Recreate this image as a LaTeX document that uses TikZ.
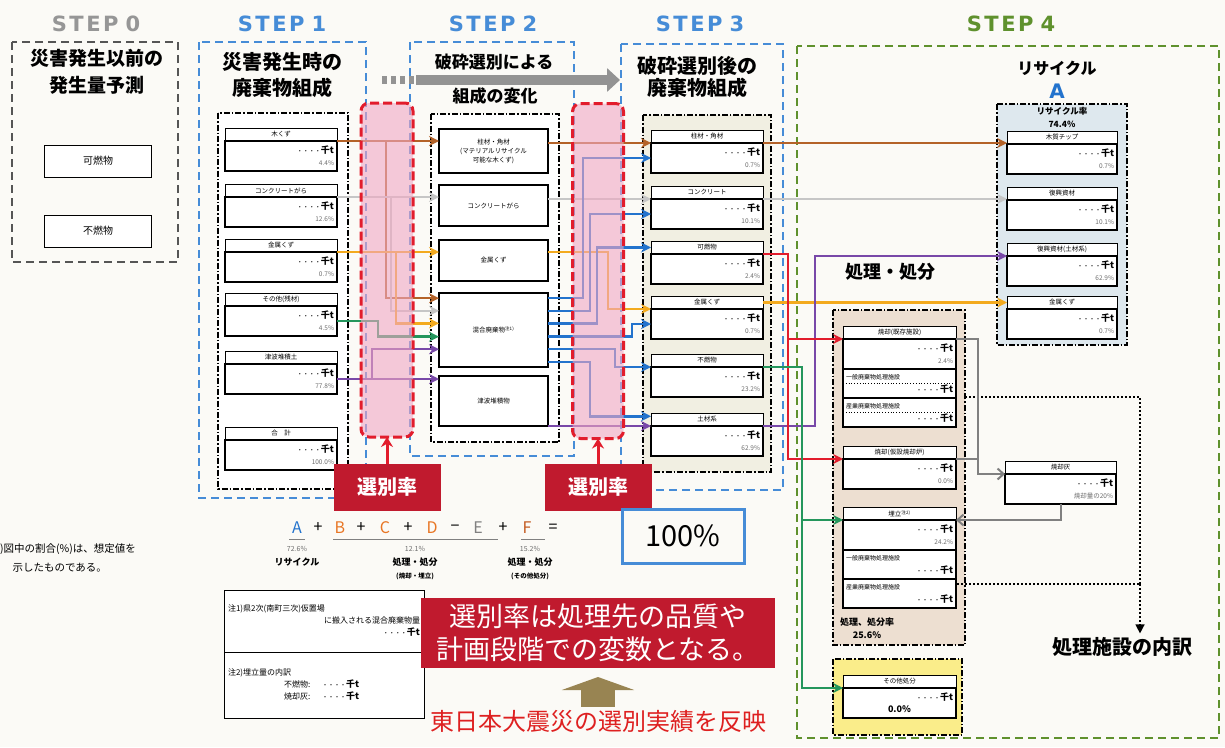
\documentclass[tikz,border=0pt]{standalone}
\usepackage{fontspec}
\setmainfont{Noto Sans CJK JP}
\newfontfamily\labfont{DejaVu Sans}
\usetikzlibrary{arrows.meta,calc}

\definecolor{cbg}{RGB}{251,250,246}
\definecolor{cbrown}{RGB}{180,98,40}
\definecolor{clgray}{RGB}{198,198,198}
\definecolor{corange}{RGB}{243,170,30}
\definecolor{cgreen}{RGB}{36,150,92}
\definecolor{cpurple}{RGB}{120,72,168}
\definecolor{cblue}{RGB}{35,115,205}
\definecolor{cred}{RGB}{226,28,44}
\definecolor{cdgray}{RGB}{128,128,128}
\definecolor{cstepblue}{RGB}{70,140,215}
\definecolor{cstepgray}{RGB}{85,85,85}
\definecolor{csteplab}{RGB}{150,150,150}
\definecolor{cstepgreen}{RGB}{95,145,45}
\definecolor{cpink}{RGB}{240,168,196}
\definecolor{cratered}{RGB}{192,26,46}
\definecolor{crecycle}{RGB}{222,232,238}
\definecolor{ctreat}{RGB}{237,223,209}
\definecolor{cyel}{RGB}{250,237,138}
\definecolor{cbeige}{RGB}{241,239,226}
\definecolor{colive}{RGB}{152,132,82}
\definecolor{cpct}{RGB}{110,110,110}
\definecolor{cletter}{RGB}{232,118,36}
\definecolor{cletterf}{RGB}{196,92,34}
\definecolor{cquake}{RGB}{222,32,32}

\newcommand\kt{{\fontsize{6}{7}\selectfont ・・・・}{\fontsize{9}{10}\selectfont\bfseries 千t}}
\newcommand\steplab[1]{{\labfont\bfseries S\kern2.5pt T\kern2.5pt E\kern2.5pt P\kern7pt #1}}
\newcommand\wbox[6]{%
  \node[ihead,text width=#4pt,anchor=north west] (#1) at (#2,#3) {#5};
  \node[ibody,text width=#4pt,anchor=north west] (#1b) at (#1.south west)
    {\kt\\[1pt]{\color{cpct}\fontsize{6.5}{7}\selectfont #6}};}

\tikzset{
  stepzero/.style={draw=cstepgray,line width=2.8pt,dash pattern=on 8pt off 5pt},
  stepblue/.style={draw=cstepblue,line width=2.8pt,dash pattern=on 8pt off 5pt},
  stepgreen/.style={draw=cstepgreen,line width=2.8pt,dash pattern=on 8pt off 5pt},
  steplabel/.style={font=\fontsize{21}{21}\selectfont},
  bigtitle/.style={align=center},
  innerbox/.style={draw=black,line width=1.5pt,dash pattern=on 6pt off 2pt on 1.5pt off 2pt},
  plainbox/.style={draw=black,line width=1pt,fill=white,font=\fontsize{10}{12}\selectfont},
  pbox/.style={draw=black,line width=1.1pt,fill=white,text width=103pt,inner xsep=3pt,
    align=center,font=\fontsize{6.5}{9}\selectfont},
  ihead/.style={draw=black,line width=0.8pt,fill=white,inner xsep=3pt,inner ysep=1pt,
    minimum height=13pt,align=center,font=\fontsize{6.5}{7}\selectfont},
  ibody/.style={draw=black,line width=1.2pt,fill=white,inner xsep=3pt,inner ysep=2pt,
    minimum height=30pt,align=right,font=\fontsize{9}{11}\selectfont},
  subrow/.style={draw=black,line width=1.2pt,fill=white,inner xsep=3pt,inner ysep=1pt,
    minimum height=29pt,align=left,font=\fontsize{6}{13}\selectfont},
  sortcol/.style={draw=cred,line width=3pt,dash pattern=on 9pt off 4pt,rounded corners=8pt,
    fill=cpink,fill opacity=0.6},
  ratebox/.style={fill=cratered,text=white,minimum width=107pt,minimum height=47pt,
    font=\fontsize{20}{20}\selectfont\bfseries},
  redup/.style={draw=cred,line width=3pt,-{Stealth[length=10pt,width=12pt]}},
  flow/.style={line width=2.5pt,-{Stealth[length=10pt,width=10pt]}},
  garrow/.style={draw=cdgray,line width=2pt,-{Straight Barb[length=6pt,width=11pt]}},
  dotline/.style={draw=black,line width=1.3pt,dash pattern=on 1.5pt off 2.5pt},
  eqtok/.style={font=\fontsize{16}{16}\selectfont},
  eqsmall/.style={text=cpct,font=\fontsize{7}{8}\selectfont},
  eqlab/.style={font=\fontsize{9}{10}\selectfont\bfseries},
  eqtiny/.style={font=\fontsize{6.5}{7}\selectfont\bfseries},
  notebox/.style={draw=black,line width=1pt,fill=white,text width=192pt,inner xsep=4pt,
    inner ysep=3pt,anchor=north west,align=left,font=\fontsize{8}{12}\selectfont},
}

\begin{document}
\begin{tikzpicture}[y=1pt, x=1pt, yscale=-1, inner sep=0pt, outer sep=0pt]
  \fill[cbg] (0,0) rectangle (1225,747);
  \useasboundingbox (0,0) rectangle (1225,747);

  % frames of the steps
  \draw[stepzero] (12,42) rectangle (178,262);
  \draw[stepblue] (199,42) rectangle (366,498);
  \draw[stepblue] (410,42) rectangle (574,456);
  \draw[stepblue] (621,44) rectangle (783,490);
  \draw[stepgreen] (797,46) rectangle (1219,738);
  \node[steplabel,text=csteplab] (lab0) at (96,24) {\steplab{0}};
  \node[steplabel,text=cstepblue] (lab1) at (282,24) {\steplab{1}};
  \node[steplabel,text=cstepblue] (lab2) at (493,24) {\steplab{2}};
  \node[steplabel,text=cstepblue] (lab3) at (700,24) {\steplab{3}};
  \node[steplabel,text=cstepgreen] (lab4) at (1011,24) {\steplab{4}};

  \node[bigtitle,font=\fontsize{19}{27}\selectfont\bfseries] (tit0) at (97,72)
    {災害発生以前の\\発生量予測};
  \node[bigtitle,font=\fontsize{20}{26}\selectfont\bfseries] (tit1) at (282,75)
    {災害発生時の\\廃棄物組成};
  \node[font=\fontsize{17}{17}\selectfont\bfseries] (tit2a) at (494,62) {破砕選別による};
  \node[font=\fontsize{17}{17}\selectfont\bfseries] (tit2b) at (495,96) {組成の変化};
  \node[bigtitle,font=\fontsize{20}{22}\selectfont\bfseries] (tit3) at (697,77)
    {破砕選別後の\\廃棄物組成};
  \node[font=\fontsize{16}{16}\selectfont\bfseries] (tit4) at (1057,68) {リサイクル};
  \node[text=cblue,font=\labfont\bfseries\fontsize{20}{20}\selectfont] (recA) at (1057,91) {A};
  \node[font=\fontsize{18}{18}\selectfont\bfseries] (tit5) at (890,272) {処理・処分};

  % STEP 0
  \node[plainbox,minimum width=107pt,minimum height=32pt] (kanen) at (98,161) {可燃物};
  \node[plainbox,minimum width=107pt,minimum height=32pt] (funen) at (98,231) {不燃物};

  % STEP 1
  \draw[innerbox,fill=white] (218,113) rectangle (348,489);
  \wbox{w1}{225}{128}{106}{木くず}{4.4\%}
  \wbox{c1}{225}{184}{106}{コンクリートがら}{12.6\%}
  \wbox{m1}{225}{239}{106}{金属くず}{0.7\%}
  \wbox{o1}{225}{293}{106}{その他(残材)}{4.5\%}
  \wbox{t1}{225}{351}{106}{津波堆積土}{77.8\%}
  \wbox{s1}{225}{427}{106}{合\quad 計}{100.0\%}

  % STEP 2
  \draw[innerbox,fill=white] (431,114) rectangle (559,442);
  \node[pbox,minimum height=44pt,anchor=north west] (pillar2) at (439,129)
    {柱材・角材\\(マテリアルリサイクル\\可能な木くず)};
  \node[pbox,minimum height=41pt,anchor=north west] (conc2) at (439,185) {コンクリートがら};
  \node[pbox,minimum height=41pt,anchor=north west] (metal2) at (439,240) {金属くず};
  \node[pbox,minimum height=74pt,anchor=north west] (mixed2) at (439,293)
    {混合廃棄物\textsuperscript{注1)}};
  \node[pbox,minimum height=50pt,anchor=north west] (tsunami2) at (439,376) {津波堆積物};

  % STEP 3
  \draw[innerbox,fill=cbeige] (643,115) rectangle (771,472);
  \wbox{pillar3}{651}{130}{106}{柱材・角材}{0.7\%}
  \wbox{conc3}{651}{186}{106}{コンクリート}{10.1\%}
  \wbox{comb3}{651}{241}{106}{可燃物}{2.4\%}
  \wbox{metal3}{651}{296}{106}{金属くず}{0.7\%}
  \wbox{incomb3}{651}{354}{106}{不燃物}{23.2\%}
  \wbox{soil3}{651}{413}{106}{土材系}{62.9\%}

  % STEP 4, recycling
  \draw[innerbox,fill=crecycle] (997,104) rectangle (1127,345);
  \node[bigtitle,font=\fontsize{8.5}{13}\selectfont\bfseries] (recrate) at (1062,117)
    {リサイクル率\\74.4\%};
  \wbox{rec1}{1007}{131}{104}{木質チップ}{0.7\%}
  \wbox{rec2}{1007}{187}{104}{復興資材}{10.1\%}
  \wbox{rec3}{1007}{243}{104}{復興資材(土材系)}{62.9\%}
  \wbox{rec4}{1007}{296}{104}{金属くず}{0.7\%}

  % STEP 4, treatment and disposal
  \draw[innerbox,fill=ctreat] (833,310) rectangle (965,645);
  \wbox{inc1}{843}{326}{107}{焼却(既存施設)}{2.4\%}
  \node[subrow,text width=107pt,anchor=north west] (inc1g) at (inc1b.south west)
    {一般廃棄物処理施設\\\hspace*{\fill}\kt};
  \node[subrow,text width=107pt,anchor=north west] (inc1s) at (inc1g.south west)
    {産業廃棄物処理施設\\\hspace*{\fill}\kt};
  \draw[dotted,line width=0.8pt] (inc1g.west) -- (inc1g.east);
  \draw[dotted,line width=0.8pt] (inc1s.west) -- (inc1s.east);
  \wbox{inc2}{843}{446}{107}{焼却(仮設焼却炉)}{0.0\%}
  \wbox{land}{843}{507}{107}{埋立\textsuperscript{注2)}}{24.2\%}
  \node[subrow,text width=107pt,anchor=north west] (landg) at (landb.south west)
    {一般廃棄物処理施設\\\hspace*{\fill}\kt};
  \node[subrow,text width=107pt,anchor=north west] (lands) at (landg.south west)
    {産業廃棄物処理施設\\\hspace*{\fill}\kt};
  \node[bigtitle,font=\fontsize{9}{13}\selectfont\bfseries] (treatrate) at (867,628)
    {処理、処分率\\25.6\%};

  \draw[innerbox,fill=cyel] (833,659) rectangle (962,735);
  \node[ihead,text width=107pt,anchor=north west] (oth) at (843,675) {その他処分};
  \node[ibody,text width=107pt,align=center,anchor=north west] (othb) at (oth.south west)
    {\hspace*{\fill}\kt\\[1pt]{\fontsize{9}{10}\selectfont\bfseries 0.0\%}};

  \wbox{ash}{1005}{461}{105}{焼却灰}{焼却量の20\%}

  % breakdown of the facilities
  \coordinate (dq1) at (965,397);
  \coordinate (dq2) at (1140,397);
  \coordinate (dq3) at (957,584);
  \coordinate (dq4) at (1140,584);
  \node[font=\fontsize{20}{20}\selectfont\bfseries] (brk) at (1122,647) {処理施設の内訳};
  \draw[dotline] (dq1) -- (dq2) -- (dq4);
  \draw[dotline] (dq3) -- (dq4);
  \draw[dotline,-{Triangle[length=9pt,width=9pt]}] (dq4) -- ($(dq4 |- brk.north)+(0,-4)$);

  % gray arrows of the ash
  \coordinate (gx) at (978,0);
  \draw[garrow] (inc1.south east) -| (gx |- ash.south west) -- (ash.south west);
  \draw[draw=cdgray,line width=2pt] (inc2.south east) -- (inc2.south east -| gx);
  \draw[garrow] (ashb.south) |- (land.south east);

  % STEP 1 to STEP 2
  \coordinate (mi1) at ($(mixed2.north west)!0.07!(mixed2.south west)$);
  \coordinate (mi2) at ($(mixed2.north west)!0.24!(mixed2.south west)$);
  \coordinate (mi3) at ($(mixed2.north west)!0.41!(mixed2.south west)$);
  \coordinate (mi4) at ($(mixed2.north west)!0.59!(mixed2.south west)$);
  \coordinate (mi5) at ($(mixed2.north west)!0.76!(mixed2.south west)$);
  \coordinate (bx1) at (386,0);
  \coordinate (bx2) at (391,0);
  \coordinate (bx3) at (396,0);
  \coordinate (bx4) at (378,0);
  \coordinate (bx5) at (372,0);
  \draw[flow,color=cbrown] (w1.south east) -- (w1.south east -| pillar2.west);
  \draw[flow,color=cbrown] (bx1 |- w1.south east) |- (mi1);
  \draw[flow,color=clgray] (c1.south east) -- (c1.south east -| conc2.west);
  \draw[flow,color=clgray] (bx2 |- c1.south east) |- (mi2);
  \draw[flow,color=corange] (m1.south east) -- (m1.south east -| metal2.west);
  \draw[flow,color=corange] (bx3 |- m1.south east) |- (mi3);
  \draw[flow,color=cgreen] (o1b.east) -| (bx4 |- mi4) -- (mi4);
  \draw[flow,color=cpurple] (t1b.east) -- (t1b.east -| tsunami2.west);
  \draw[flow,color=cpurple] (bx5 |- t1b.east) |- (mi5);

  % STEP 2 to STEP 3
  \coordinate (mo1) at ($(mixed2.north east)!0.07!(mixed2.south east)$);
  \coordinate (mo2) at ($(mixed2.north east)!0.24!(mixed2.south east)$);
  \coordinate (mo3) at ($(mixed2.north east)!0.41!(mixed2.south east)$);
  \coordinate (mo4) at ($(mixed2.north east)!0.59!(mixed2.south east)$);
  \coordinate (mo5) at ($(mixed2.north east)!0.76!(mixed2.south east)$);
  \coordinate (mo6) at ($(mixed2.north east)!0.93!(mixed2.south east)$);
  \coordinate (soiltop) at ($(soil3.north west)!0.25!(soil3.south west)$);
  \coordinate (ox) at (608,0);
  \draw[flow,color=cbrown] (pillar3.south west -| pillar2.east) -- (pillar3.south west);
  \draw[flow,color=clgray] (conc3.south west -| conc2.east) -- (conc3.south west);
  \draw[flow,color=corange] (m1.south east -| metal2.east) -| (ox |- metal3.south west)
    -- (metal3.south west);
  \draw[flow,color=cblue] (mo1) -| ($(583,0)!(pillar3b.west)!(583,1)$) -- (pillar3b.west);
  \draw[flow,color=cblue] (mo2) -| ($(590,0)!(conc3b.west)!(590,1)$) -- (conc3b.west);
  \draw[flow,color=cblue] (mo3) -| ($(597,0)!(comb3.west)!(597,1)$) -- (comb3.west);
  \draw[flow,color=cblue] (mo4) -| ($(632,0)!(metal3b.west)!(632,1)$) -- (metal3b.west);
  \draw[flow,color=cblue] (mo5) -| ($(615,0)!(incomb3.south west)!(615,1)$) -- (incomb3.south west);
  \draw[flow,color=cblue] (mo6) -| ($(590,0)!(soiltop)!(590,1)$) -- (soiltop);
  \draw[flow,color=cpurple] (soil3.south west -| tsunami2.east) -- (soil3.south west);

  % STEP 3 to STEP 4
  \coordinate (px) at (815,0);
  \coordinate (rx) at (788,0);
  \coordinate (gx2) at (802,0);
  \draw[flow,color=cbrown] (pillar3.south east) -- (pillar3.south east -| rec1.west);
  \draw[flow,color=clgray] (conc3.south east) -- (conc3.south east -| rec2.west);
  \draw[flow,color=corange] (metal3.east) -- (metal3.east -| rec4.west);
  \draw[flow,color=cpurple] (soil3.south east) -| (px |- rec3.south west) -- (rec3.south west);
  \draw[flow,color=cred] (comb3.south east) -| (rx |- inc2.south west) -- (inc2.south west);
  \draw[flow,color=cred] (rx |- inc1.south west) -- (inc1.south west);
  \draw[flow,color=cgreen] (incomb3.south east) -| (gx2 |- oth.south west) -- (oth.south west);
  \draw[flow,color=cgreen] (gx2 |- land.south west) -- (land.south west);

  % sorting columns
  \node[sortcol,minimum width=52pt,minimum height=334pt] (col1) at (387,270) {};
  \node[sortcol,minimum width=51pt,minimum height=335pt] (col2) at (598,271) {};
  \node[ratebox] (rate1) at (387,487) {選別率};
  \node[ratebox] (rate2) at (598,487) {選別率};
  \draw[redup] (rate1.north) -- (col1.south);
  \draw[redup] (rate2.north) -- (col2.south);

  % gray arrow across STEP 2
  \coordinate (ga1) at (382,80);
  \coordinate (ga2) at (416,80);
  \coordinate (ga3) at (620,80);
  \draw[draw=cdgray!85,line width=8pt,dash pattern=on 5pt off 4pt] (ga1) -- (ga2);
  \draw[draw=cdgray!85,fill=cdgray!85,line width=10pt,-{Triangle[length=13pt,width=23pt]}]
    (ga2) -- (ga3);

  % formula
  \foreach \n/\x/\t/\c in {1/297/A/cblue,2/318/+/black,3/340/B/cletter,4/361/+/black,
      5/385/C/cletter,6/408/+/black,7/432/D/cletter,8/455/−/black,9/478/E/cdgray,
      10/503/+/black,11/527/F/cletterf,12/553/=/black}
    \node[eqtok,text=\c] (eq\n) at (\x,528) {\t};
  \draw[cdgray,line width=1pt] (289,539) -- (305,539);
  \draw[cdgray,line width=1pt] (333,539) -- (498,539);
  \draw[cdgray,line width=1pt] (521,539) -- (545,539);
  \node[eqsmall] (pa) at (297,549) {72.6\%};
  \node[eqlab] (la) at (297,562) {リサイクル};
  \node[eqsmall] (pb) at (415,549) {12.1\%};
  \node[eqlab] (lb) at (415,562) {処理・処分};
  \node[eqtiny] (sb) at (415,576) {(焼却・埋立)};
  \node[eqsmall] (pf) at (530,549) {15.2\%};
  \node[eqlab] (lf) at (530,562) {処理・処分};
  \node[eqtiny] (sf) at (530,576) {(その他処分)};
  \node[draw=cstepblue,line width=3pt,minimum width=122pt,minimum height=54pt,
    font=\fontsize{29}{29}\selectfont] (hund) at (683,536) {100\%};

  % notes
  \node[anchor=north west,align=left,font=\fontsize{10.5}{19}\selectfont] (note0) at (0,544)
    {)図中の割合(\%)は、想定値を\\\hspace{1.2em}示したものである。};
  \node[notebox,minimum height=62pt] (note1) at (224,590)
    {注1)県2次(南町三次)仮置場\\\hspace*{\fill}に搬入される混合廃棄物量\\\hspace*{\fill}\kt\hspace{14pt}};
  \node[notebox,minimum height=66pt] (note2) at (note1.south west)
    {注2)埋立量の内訳\\\hspace{56pt}不燃物:\hspace{12pt}\kt\\\hspace{56pt}焼却灰:\hspace{12pt}\kt\\[4pt]};

  \node[fill=cratered,text=white,minimum width=354pt,minimum height=70pt,align=center,
    font=\fontsize{27}{33}\selectfont] (msg) at (598,633)
    {選別率は処理先の品質や\\計画段階での変数となる。};
  \node[text=cquake,font=\fontsize{24}{24}\selectfont] (quake) at (598,721)
    {東日本大震災の選別実績を反映};
  \draw[draw=colive,fill=colive,line width=34pt,-{Triangle[length=13pt,width=72pt]},
    shorten <=3pt,shorten >=9pt] (quake.north) -- (msg.south);
\end{tikzpicture}
\end{document}
